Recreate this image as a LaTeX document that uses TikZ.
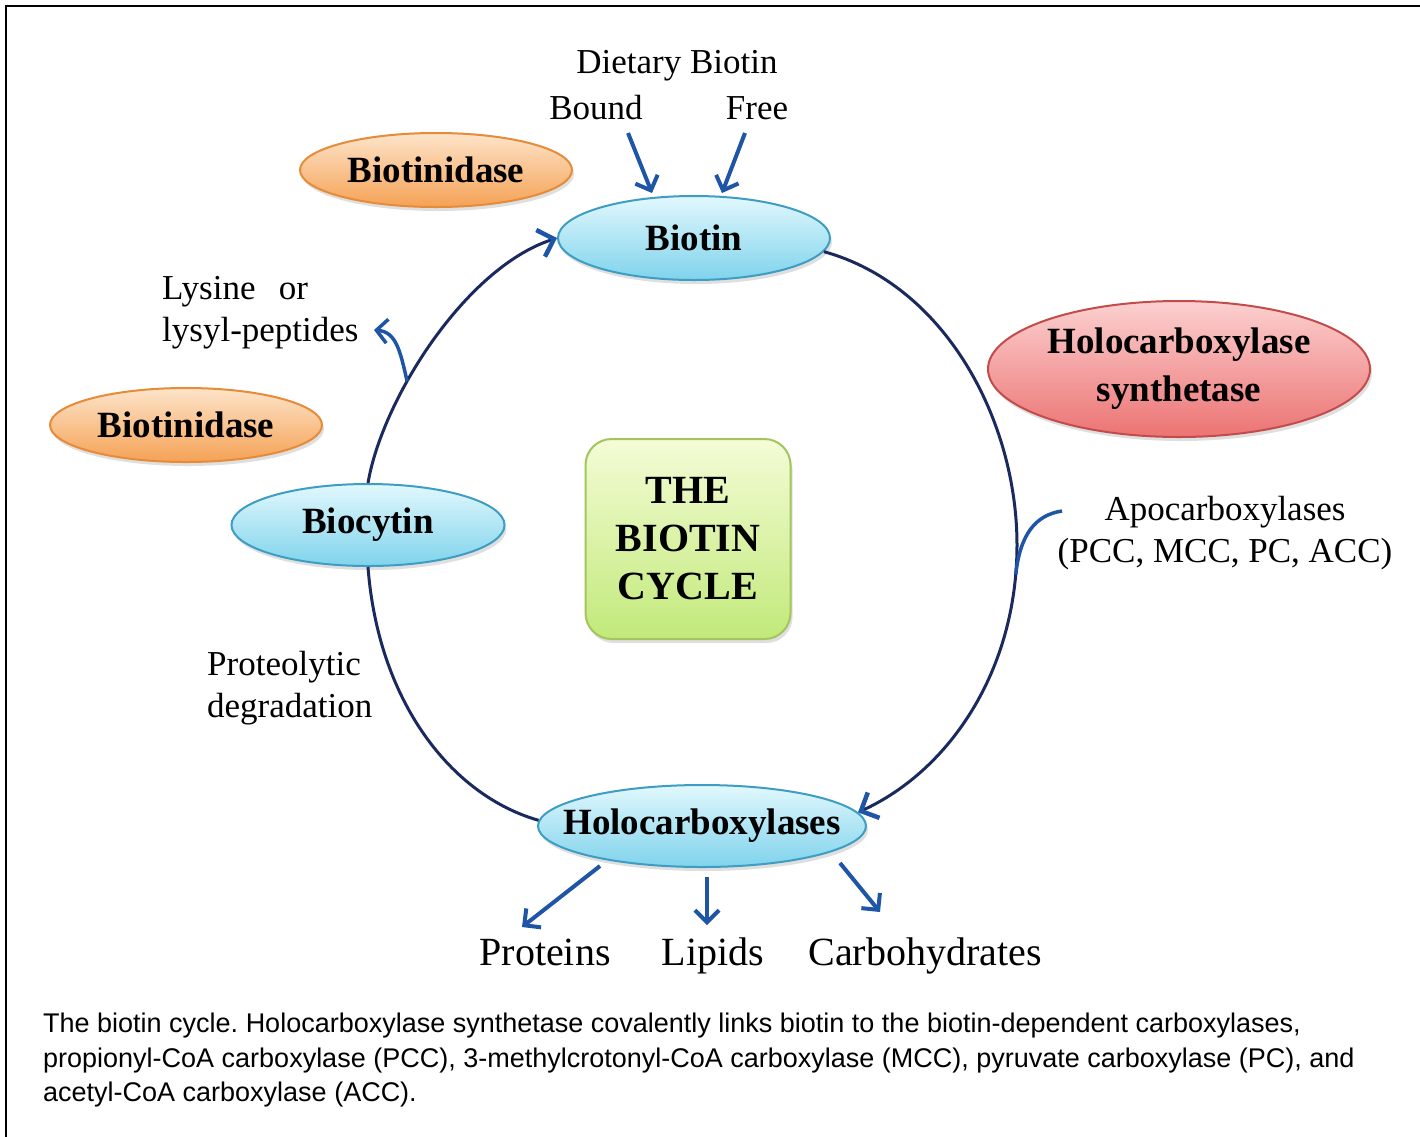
\documentclass[tikz,border=0pt]{standalone}
\usepackage{fontspec}
\setmainfont{Liberation Serif}
\newfontfamily\capfont{Liberation Sans}
\usetikzlibrary{arrows.meta,shadows,shapes.geometric}
\frenchspacing
\definecolor{cyantop}{HTML}{E2F8FD}
\definecolor{cyanmid}{HTML}{B4EAF7}
\definecolor{cyanbot}{HTML}{7FD3EC}
\definecolor{cyanborder}{HTML}{3E9DC2}
\definecolor{orangetop}{HTML}{FDE4CA}
\definecolor{orangemid}{HTML}{FBC48E}
\definecolor{orangebot}{HTML}{F5A255}
\definecolor{orangeborder}{HTML}{E68B38}
\definecolor{redtop}{HTML}{FCD0D0}
\definecolor{redmid}{HTML}{F5A0A0}
\definecolor{redbot}{HTML}{EC7373}
\definecolor{redborder}{HTML}{C44B4B}
\definecolor{greentop}{HTML}{F4FCD6}
\definecolor{greenbot}{HTML}{C2E97A}
\definecolor{greenborder}{HTML}{A2C65C}
\definecolor{navy}{HTML}{1B2A5E}
\definecolor{arrowblue}{HTML}{1F55A6}
\tikzset{
  ell/.style={ellipse, line width=2pt, inner sep=0pt,
    font=\fontsize{37}{46}\selectfont\bfseries, align=center,
    drop shadow={shadow xshift=2pt, shadow yshift=-4pt, opacity=0.25, fill=gray}},
  blueell/.style={ell, draw=cyanborder, top color=cyantop, middle color=cyanmid, bottom color=cyanbot},
  orangeell/.style={ell, draw=orangeborder, top color=orangetop, middle color=orangemid, bottom color=orangebot},
  redell/.style={ell, draw=redborder, top color=redtop, middle color=redmid, bottom color=redbot},
  lab/.style={inner sep=0pt, font=\fontsize{35}{42}\selectfont},
  prod/.style={inner sep=0pt, anchor=base, font=\fontsize{40}{48}\selectfont},
  captext/.style={inner sep=0pt, anchor=base west, font=\capfont\fontsize{27}{35}\selectfont},
  cyc/.style={draw=navy, line width=3pt},
  tip/.style={-{Straight Barb[length=14pt,width=28pt,line width=4.5pt,color=arrowblue]}},
  arr/.style={draw=arrowblue, line width=4pt, -{Straight Barb[length=12pt,width=24pt]}}
}
\begin{document}
\begin{tikzpicture}[x=1pt,y=-1pt]
\useasboundingbox (0,0) rectangle (1420,1136);
\fill[white] (0,0) rectangle (1420,1136);
\draw[line width=2.5pt] (1430,6) -- (6,6) -- (6,1145);

% nodes
\node[orangeell, minimum width=272pt, minimum height=74pt] (bnd1) at (436,170) {Biotinidase};
\node[orangeell, minimum width=272pt, minimum height=74pt] (bnd2) at (186,425) {Biotinidase};
\node[blueell, minimum width=272pt, minimum height=84pt] (biotin) at (694,238) {Biotin};
\node[redell, minimum width=382pt, minimum height=136pt, font=\fontsize{37}{48}\selectfont\bfseries] (hcs) at (1179,369) {Holocarboxylase\\synthetase};
\node[blueell, minimum width=273pt, minimum height=82pt] (biocytin) at (368,525) {Biocytin};
\node[blueell, minimum width=328pt, minimum height=82pt, inner xsep=-24pt] (holo) at (702,826) {Holocarboxylases};
\node[draw=greenborder, line width=2pt, rounded corners=26pt, top color=greentop, bottom color=greenbot,
      minimum width=205pt, minimum height=200pt, align=center, inner sep=0pt,
      font=\fontsize{40}{48}\selectfont\bfseries,
      drop shadow={shadow xshift=2pt, shadow yshift=-4pt, opacity=0.25, fill=gray}] (title) at (688,539) {THE\\BIOTIN\\CYCLE};

% labels
\node[lab, anchor=base] (dietary) at (677,73) {Dietary Biotin};
\node[lab, anchor=base] (bound) at (596,119) {Bound};
\node[lab, anchor=base] (free) at (757,119) {Free};
\node[lab, anchor=west, align=left] (lysine) at (162,313) {Lysine\ \ \,or\\lysyl-peptides};
\node[lab, align=center] (apo) at (1225,533) {Apocarboxylases\\(PCC, MCC, PC, ACC)};
\node[lab, anchor=west, align=left] (proteo) at (207,688) {Proteolytic\\degradation};
\node[prod] (proteins) at (545,965) {Proteins};
\node[prod] (lipids) at (713,965) {Lipids};
\node[prod] (carbs) at (925,965) {Carbohydrates};

% caption
\node[captext] (cap1) at (43,1032) {The biotin cycle. Holocarboxylase synthetase covalently links biotin to the biotin-dependent carboxylases,};
\node[captext] (cap2) at (43,1067) {propionyl-CoA carboxylase (PCC), 3-methylcrotonyl-CoA carboxylase (MCC), pyruvate carboxylase (PC), and};
\node[captext] (cap3) at (43,1101) {acetyl-CoA carboxylase (ACC).};

% cycle
\coordinate (rightmost) at (1017,545);
\draw[cyc, tip] (biocytin.north) .. controls (382,400) and (465,268) .. coordinate[pos=0.36] (lysj) (biotin.west);
\draw[cyc] (biotin.-6) .. controls (945,285) and (1017,420) .. (rightmost);
\draw[cyc, tip] (rightmost) .. controls (1017,670) and (950,770) .. coordinate[pos=0.08] (apoj) (holo.5);
\draw[cyc] (biocytin.south) .. controls (378,700) and (450,795) .. (holo.178);

% side branches
\coordinate (lysend) at (374,330);
\draw[draw=arrowblue, line width=3.5pt, -{Straight Barb[length=11pt,width=24pt]}] (lysj) .. controls (400,350) and (396,332) .. (lysend);
\coordinate (apostart) at (1062,511);
\draw[draw=arrowblue, line width=3.5pt] (apostart) .. controls (1035,515) and (1020,535) .. (apoj);

% dietary arrows
\coordinate (bs) at (628,133);
\coordinate (be) at (652,193);
\coordinate (fs) at (745,133);
\coordinate (fe) at (722,193);
\draw[arr] (bs) -- (be);
\draw[arr] (fs) -- (fe);

% product arrows
\coordinate (p1s) at (600,866);
\coordinate (p1e) at (522,927);
\coordinate (p2s) at (707,877);
\coordinate (p2e) at (707,925);
\coordinate (p3s) at (840,863);
\coordinate (p3e) at (880,912);
\draw[arr] (p1s) -- (p1e);
\draw[arr] (p2s) -- (p2e);
\draw[arr] (p3s) -- (p3e);
\end{tikzpicture}
\end{document}
